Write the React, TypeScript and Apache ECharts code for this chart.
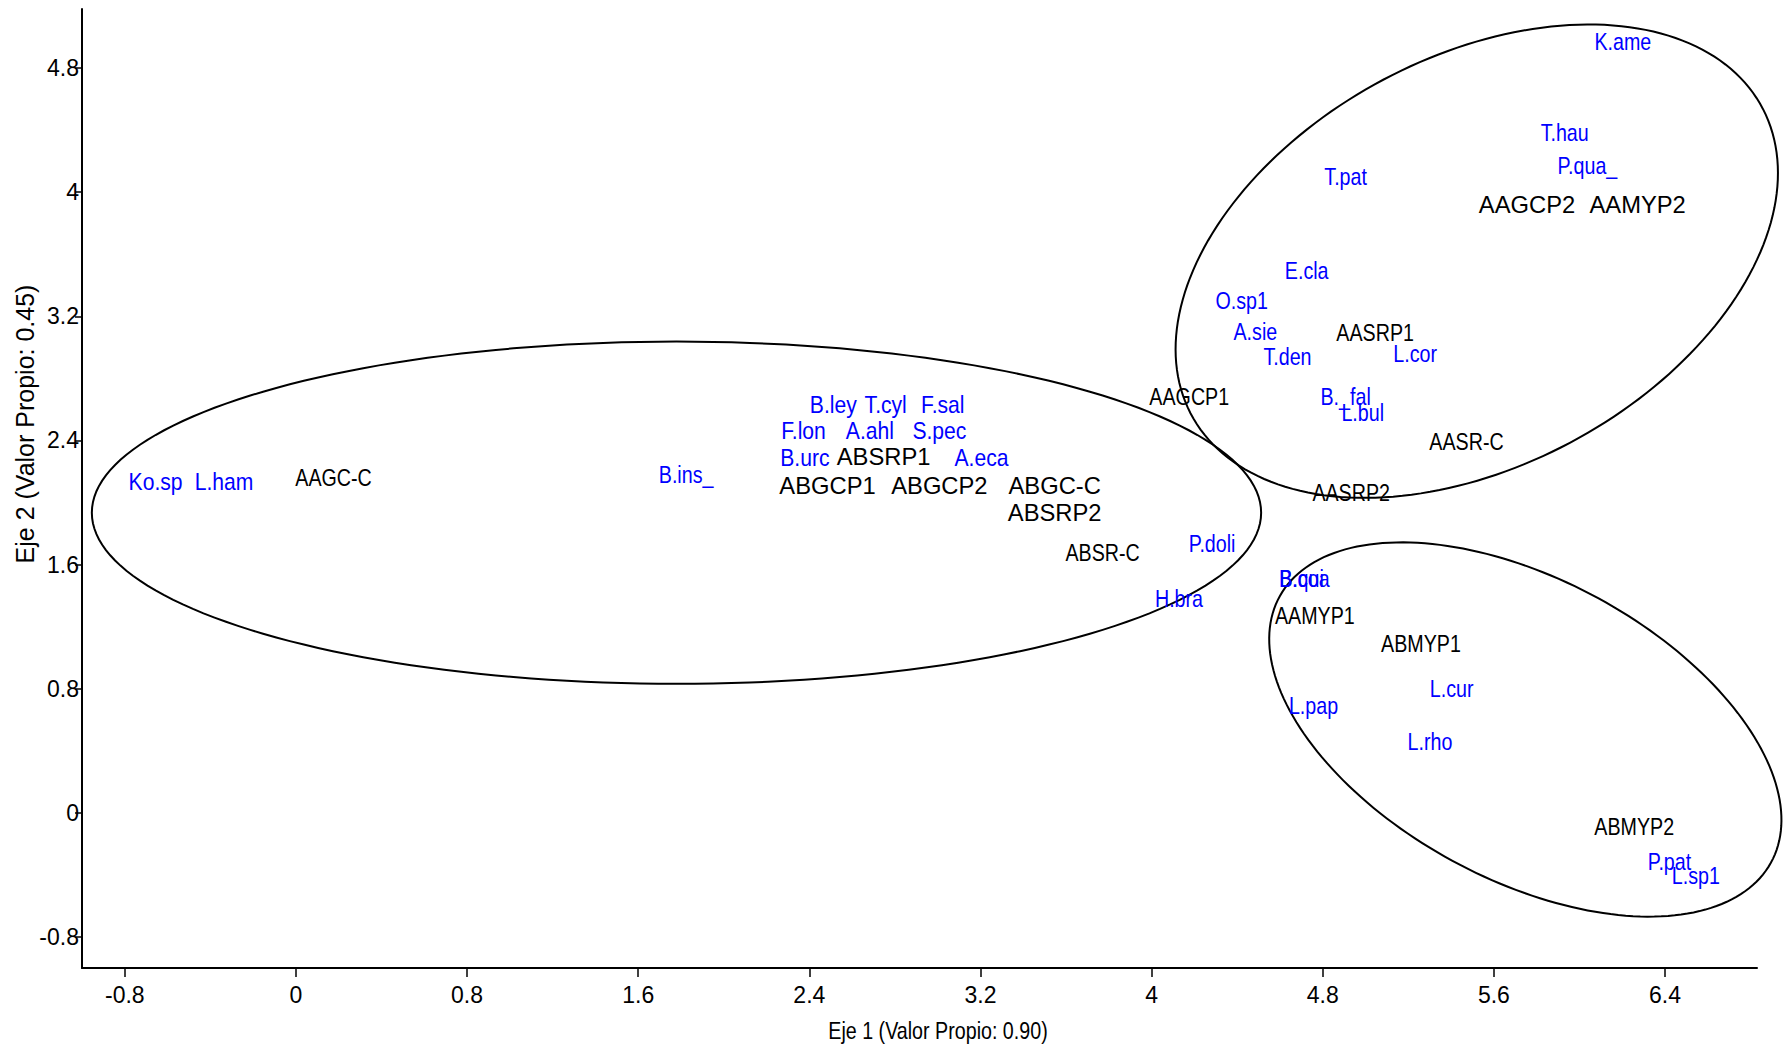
import React, { useEffect, useRef } from "react";
import * as echarts from "echarts";

// ---- data ----
const xTicks = [-0.8, 0, 0.8, 1.6, 2.4, 3.2, 4, 4.8, 5.6, 6.4];
const yTicks = [-0.8, 0, 0.8, 1.6, 2.4, 3.2, 4, 4.8];

const siteNames = ["AAGC-C", "ABSRP1", "ABGCP1", "ABGCP2", "ABGC-C", "ABSRP2", "ABSR-C", "AAGCP1", "AASRP1", "AASR-C", "AASRP2", "AAGCP2", "AAMYP2", "AAMYP1", "ABMYP1", "ABMYP2"];
const siteX = [0.176, 2.747, 2.485, 3.008, 3.547, 3.547, 3.771, 4.176, 5.045, 5.472, 4.933, 5.755, 6.272, 4.763, 5.259, 6.256];
const siteY = [2.16, 2.294, 2.11, 2.11, 2.11, 1.934, 1.676, 2.684, 3.096, 2.39, 2.06, 3.92, 3.92, 1.272, 1.088, -0.088];

const speciesNames = ["Ko.sp", "L.ham", "B.ins_", "B.ley", "T.cyl", "F.sal", "F.lon", "A.ahl", "S.pec", "B.urc", "A.eca", "P.doli", "H.bra", "B.qui", "B.coa", "L.pap", "L.cur", "L.rho", "P.pat", "L.sp1", "K.ame", "T.hau", "P.qua_", "T.pat", "E.cla", "O.sp1", "A.sie", "T.den", "L.cor", "B._fal", "L.bul"];
const speciesX = [-0.656, -0.336, 1.824, 2.512, 2.757, 3.024, 2.373, 2.683, 3.008, 2.379, 3.205, 4.283, 4.128, 4.70, 4.715, 4.757, 5.403, 5.301, 6.421, 6.544, 6.203, 5.931, 6.037, 4.907, 4.725, 4.421, 4.485, 4.635, 5.232, 4.907, 4.987];
const speciesY = [2.13, 2.13, 2.18, 2.625, 2.625, 2.625, 2.463, 2.463, 2.463, 2.287, 2.287, 1.735, 1.382, 1.507, 1.507, 0.69, 0.80, 0.456, -0.316, -0.404, 4.97, 4.38, 4.17, 4.096, 3.49, 3.30, 3.10, 2.94, 2.956, 2.68, 2.575];

// ellipses: center x, center y, semi-axis a, semi-axis b, angle (deg)
const ellipseCx = [1.779, 5.52, 5.747];
const ellipseCy = [1.934, 3.555, 0.537];
const ellipseA = [2.733, 1.724, 1.4635];
const ellipseB = [1.103, 1.156, 0.8637];
const ellipseAngle = [0, 51.07, -45.43];

// styling groups (labels drawn at full width; the rest are condensed)
const regularFontLabels = new Set(["Ko.sp", "L.ham", "B.ley", "T.cyl", "F.sal", "F.lon", "A.ahl", "S.pec", "B.urc", "A.eca", "ABSRP1", "ABGCP1", "ABGCP2", "ABGC-C", "ABSRP2", "AAGCP2", "AAMYP2"]);

const FONT = "'Liberation Sans', Arial, sans-serif";

export default function App() {
  const ref = useRef<HTMLDivElement>(null);
  useEffect(() => {
    if (!ref.current) return;
    const chart = echarts.init(ref.current, null, { renderer: "svg" });

    const siteData = siteNames.map((n, i) => [siteX[i], siteY[i], i]);
    const speciesData = speciesNames.map((n, i) => [speciesX[i], speciesY[i], i]);
    const ellipseData = ellipseCx.map((c, i) => [c, ellipseCy[i], ellipseA[i], ellipseB[i], ellipseAngle[i]]);

    const textSeries = (names: string[], data: number[][], color: string, isSite: boolean) => ({
      type: "custom",
      coordinateSystem: "cartesian2d",
      clip: false,
      silent: true,
      data,
      encode: { x: 0, y: 1 },
      renderItem: (params: any, api: any) => {
        const p = api.coord([api.value(0), api.value(1)]);
        const name = names[api.value(2)];
        const regular = regularFontLabels.has(name);
        const sx = regular ? (isSite ? 0.99 : 0.88) : 0.82;
        return {
          type: "text",
          x: p[0],
          y: p[1],
          scaleX: sx,
          style: {
            text: name,
            fill: color,
            fontSize: 24,
            fontFamily: FONT,
            align: "center",
            verticalAlign: "middle",
          },
        };
      },
    });

    const option: any = {
      animation: false,
      backgroundColor: "#ffffff",
      grid: { left: 82, right: 32, top: 9, bottom: 80, containLabel: false },
      xAxis: {
        type: "value",
        min: -1.0,
        max: 6.83,
        splitLine: { show: false },
        axisLine: { show: true, onZero: false, lineStyle: { color: "#000", width: 2 } },
        axisTick: { show: true, customValues: xTicks, length: 9, lineStyle: { color: "#000", width: 1.5 } },
        axisLabel: {
          customValues: xTicks,
          color: "#000",
          fontSize: 23,
          fontFamily: FONT,
          margin: 15,
          formatter: (v: number) => String(v),
        },
      },
      yAxis: {
        type: "value",
        min: -1.0,
        max: 5.18,
        splitLine: { show: false },
        axisLine: { show: true, onZero: false, lineStyle: { color: "#000", width: 2 } },
        axisTick: { show: true, customValues: yTicks, length: 7, lineStyle: { color: "#000", width: 1.5 } },
        axisLabel: {
          customValues: yTicks,
          color: "#000",
          fontSize: 23,
          fontFamily: FONT,
          margin: 3,
          formatter: (v: number) => String(v),
        },
      },
      graphic: [
        {
          type: "text",
          x: 938,
          y: 1031,
          scaleX: 0.82,
          style: {
            text: "Eje 1 (Valor Propio: 0.90)",
            fill: "#000",
            fontSize: 24,
            fontFamily: FONT,
            align: "center",
            verticalAlign: "middle",
            textAlign: "center",
            textVerticalAlign: "middle",
          },
        },
        {
          type: "text",
          x: 25,
          y: 424,
          rotation: Math.PI / 2,
          style: {
            text: "Eje 2 (Valor Propio: 0.45)",
            fill: "#000",
            fontSize: 25,
            fontFamily: FONT,
            align: "center",
            verticalAlign: "middle",
            textAlign: "center",
            textVerticalAlign: "middle",
          },
        },
      ],
      series: [
        {
          type: "custom",
          coordinateSystem: "cartesian2d",
          clip: false,
          silent: true,
          data: ellipseData,
          encode: { x: 0, y: 1 },
          renderItem: (params: any, api: any) => {
            const cx = api.value(0);
            const cy = api.value(1);
            const a = api.value(2);
            const b = api.value(3);
            const th = (api.value(4) * Math.PI) / 180;
            const pts: number[][] = [];
            const n = 200;
            for (let k = 0; k < n; k++) {
              const t = (2 * Math.PI * k) / n;
              const x = cx + a * Math.cos(t) * Math.cos(th) - b * Math.sin(t) * Math.sin(th);
              const y = cy + a * Math.cos(t) * Math.sin(th) + b * Math.sin(t) * Math.cos(th);
              pts.push(api.coord([x, y]));
            }
            return {
              type: "polygon",
              shape: { points: pts },
              style: { fill: "none", stroke: "#000", lineWidth: 2 },
            };
          },
        },
        textSeries(siteNames, siteData, "#000000", true),
        textSeries(speciesNames, speciesData, "#0000ff", false),
      ],
    };
    chart.setOption(option);
    return () => chart.dispose();
  }, []);
  return <div ref={ref} style={{ position: "fixed", left: 0, top: 0, width: 1789, height: 1048 }} />;
}
